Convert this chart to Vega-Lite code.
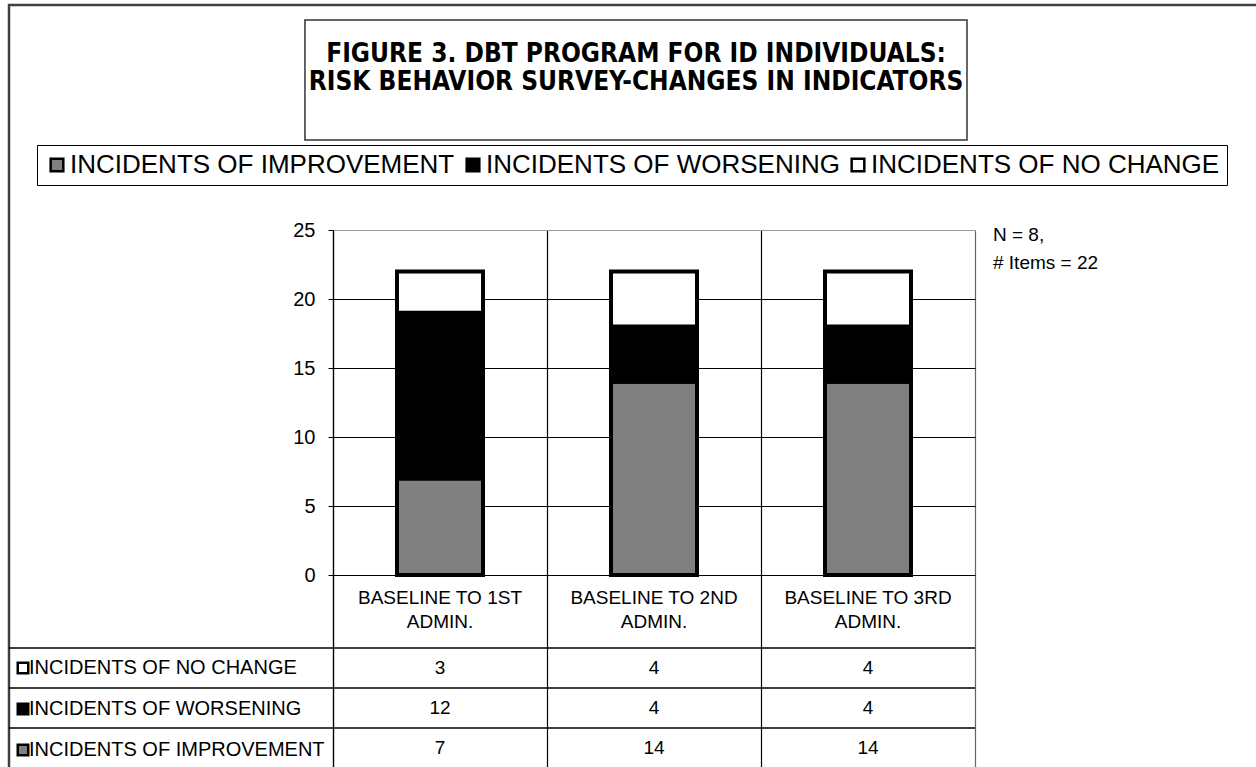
{
  "$schema": "https://vega.github.io/schema/vega-lite/v6.json",
  "width": 642,
  "height": 537,
  "autosize": {"type": "none"},
  "padding": {"left": 333, "top": 230, "right": 281, "bottom": 0},
  "background": "white",
  "config": {
    "view": {"stroke": null},
    "font": "Liberation Sans, Arial, sans-serif",
    "text": {"font": "Liberation Sans, Arial, sans-serif"}
  },
  "datasets": {
    "counts": [
      {"admin": 1, "period": "BASELINE TO 1ST\nADMIN.", "series": "INCIDENTS OF IMPROVEMENT", "rank": 1, "count": 7},
      {"admin": 1, "period": "BASELINE TO 1ST\nADMIN.", "series": "INCIDENTS OF WORSENING", "rank": 2, "count": 12},
      {"admin": 1, "period": "BASELINE TO 1ST\nADMIN.", "series": "INCIDENTS OF NO CHANGE", "rank": 3, "count": 3},
      {"admin": 2, "period": "BASELINE TO 2ND\nADMIN.", "series": "INCIDENTS OF IMPROVEMENT", "rank": 1, "count": 14},
      {"admin": 2, "period": "BASELINE TO 2ND\nADMIN.", "series": "INCIDENTS OF WORSENING", "rank": 2, "count": 4},
      {"admin": 2, "period": "BASELINE TO 2ND\nADMIN.", "series": "INCIDENTS OF NO CHANGE", "rank": 3, "count": 4},
      {"admin": 3, "period": "BASELINE TO 3RD\nADMIN.", "series": "INCIDENTS OF IMPROVEMENT", "rank": 1, "count": 14},
      {"admin": 3, "period": "BASELINE TO 3RD\nADMIN.", "series": "INCIDENTS OF WORSENING", "rank": 2, "count": 4},
      {"admin": 3, "period": "BASELINE TO 3RD\nADMIN.", "series": "INCIDENTS OF NO CHANGE", "rank": 3, "count": 4}
    ]
  },
  "data": {"name": "counts"},
  "resolve": {"scale": {"y": "independent"}, "axis": {"y": "independent"}},
  "layer": [
    {
      "data": {"values": [{}]},
      "mark": {"type": "rect", "fill": "transparent", "stroke": "#404040", "strokeWidth": 2.5},
      "encoding": {
        "x": {"datum": -1.014, "type": "quantitative", "scale": {"domain": [0.5, 3.5], "nice": false, "zero": false, "padding": 0}},
        "x2": {"datum": 5},
        "y": {"datum": 41.3, "type": "quantitative", "scale": {"domain": [-13.91, 25], "nice": false, "zero": false}, "axis": null},
        "y2": {"datum": -16}
      }
    },
    {
      "data": {"values": [{}]},
      "mark": {"type": "rect", "fill": "transparent", "stroke": "#333333", "strokeWidth": 1.5},
      "encoding": {
        "x": {"datum": 0.369, "type": "quantitative", "scale": {"domain": [0.5, 3.5], "nice": false, "zero": false, "padding": 0}},
        "x2": {"datum": 3.4626},
        "y": {"datum": 40.22, "type": "quantitative", "scale": {"domain": [-13.91, 25], "nice": false, "zero": false}, "axis": null},
        "y2": {"datum": 31.52}
      }
    },
    {
      "data": {"values": [{}]},
      "mark": {
        "type": "text",
        "text": ["FIGURE 3. DBT PROGRAM FOR ID INDIVIDUALS:", "RISK BEHAVIOR SURVEY-CHANGES IN INDICATORS"],
        "font": "DejaVu Sans Condensed, Liberation Sans Narrow, sans-serif",
        "fontWeight": "bold",
        "fontSize": 26,
        "lineHeight": 28,
        "align": "center",
        "baseline": "middle",
        "color": "black"
      },
      "encoding": {
        "x": {"datum": 1.916, "type": "quantitative", "scale": {"domain": [0.5, 3.5], "nice": false, "zero": false, "padding": 0}},
        "y": {"datum": 37.75, "type": "quantitative", "scale": {"domain": [-13.91, 25], "nice": false, "zero": false}, "axis": null}
      }
    },
    {
      "mark": {"type": "bar", "size": 86, "stroke": "black", "strokeWidth": 4},
      "encoding": {
        "x": {
          "field": "admin",
          "type": "quantitative",
          "scale": {"domain": [0.5, 3.5], "nice": false, "zero": false, "padding": 0},
          "axis": {
            "values": [0.5, 1.5, 2.5, 3.5],
            "grid": true,
            "gridColor": {"condition": {"test": "datum.value === 3.5", "value": "#666666"}, "value": "black"},
            "gridWidth": 1.2,
            "labels": false,
            "ticks": false,
            "domain": false,
            "title": null
          }
        },
        "y": {
          "field": "count",
          "type": "quantitative",
          "stack": "zero",
          "scale": {"domain": [-13.91, 25], "nice": false, "zero": false},
          "axis": {
            "values": [0, 5, 10, 15, 20, 25],
            "grid": true,
            "gridColor": {"condition": {"test": "datum.value === 25", "value": "#999999"}, "value": "black"},
            "gridWidth": 1.2,
            "domainColor": "black",
            "domainWidth": 1.2,
            "tickColor": "black",
            "tickSize": 5,
            "labelFontSize": 20,
            "labelColor": "black",
            "labelPadding": 13,
            "labelFont": "Liberation Sans, Arial, sans-serif",
            "title": null
          }
        },
        "color": {
          "field": "series",
          "type": "nominal",
          "scale": {
            "domain": ["INCIDENTS OF IMPROVEMENT", "INCIDENTS OF WORSENING", "INCIDENTS OF NO CHANGE"],
            "range": ["#808080", "#000000", "#ffffff"]
          },
          "legend": {
            "title": null,
            "orient": "none",
            "legendX": -296,
            "legendY": -85,
            "direction": "horizontal",
            "columns": 3,
            "strokeColor": "black",
            "fillColor": "white",
            "padding": 7,
            "symbolType": "square",
            "symbolSize": 160,
            "symbolStrokeColor": "black",
            "symbolStrokeWidth": 2.5,
            "labelFontSize": 26,
            "labelFont": "Liberation Sans, Arial, sans-serif",
            "labelColor": "black",
            "labelLimit": 800,
            "labelOffset": 0,
            "columnPadding": 5
          }
        },
        "order": {"field": "rank", "type": "quantitative"}
      }
    },
    {
      "transform": [{"aggregate": [{"op": "count", "as": "n"}], "groupby": ["admin", "period"]}],
      "mark": {"type": "text", "lineBreak": "\n", "fontSize": 19, "lineHeight": 24, "align": "center", "baseline": "middle", "color": "black"},
      "encoding": {
        "x": {"field": "admin", "type": "quantitative", "scale": {"domain": [0.5, 3.5], "nice": false, "zero": false, "padding": 0}},
        "y": {"datum": -1.667, "type": "quantitative", "scale": {"domain": [-13.91, 25], "nice": false, "zero": false}, "axis": null},
        "text": {"field": "period"}
      }
    },
    {
      "transform": [{"aggregate": [{"op": "count", "as": "n"}], "groupby": ["series"]}],
      "mark": {"type": "rule", "color": "black", "strokeWidth": 1.5},
      "encoding": {
        "x": {"datum": -1.014, "type": "quantitative", "scale": {"domain": [0.5, 3.5], "nice": false, "zero": false, "padding": 0}},
        "x2": {"datum": 3.5},
        "y": {
          "field": "series",
          "type": "nominal",
          "bandPosition": 0,
          "scale": {"type": "band", "domain": ["INCIDENTS OF NO CHANGE", "INCIDENTS OF WORSENING", "INCIDENTS OF IMPROVEMENT"], "range": [418, 538], "paddingInner": 0, "paddingOuter": 0},
          "axis": null
        }
      }
    },
    {
      "mark": {"type": "text", "fontSize": 19, "color": "black", "align": "center", "baseline": "middle"},
      "encoding": {
        "x": {"field": "admin", "type": "quantitative", "scale": {"domain": [0.5, 3.5], "nice": false, "zero": false, "padding": 0}},
        "y": {
          "field": "series",
          "type": "nominal",
          "bandPosition": 0.5,
          "scale": {"type": "band", "domain": ["INCIDENTS OF NO CHANGE", "INCIDENTS OF WORSENING", "INCIDENTS OF IMPROVEMENT"], "range": [418, 538], "paddingInner": 0, "paddingOuter": 0},
          "axis": null
        },
        "text": {"field": "count", "type": "quantitative"}
      }
    },
    {
      "transform": [{"aggregate": [{"op": "count", "as": "n"}], "groupby": ["series"]}],
      "mark": {"type": "square", "opacity": 0},
      "encoding": {
        "x": {"datum": -1, "type": "quantitative", "scale": {"domain": [0.5, 3.5], "nice": false, "zero": false, "padding": 0}},
        "y": {
          "field": "series",
          "type": "nominal",
          "bandPosition": 0.5,
          "scale": {"type": "band", "domain": ["INCIDENTS OF NO CHANGE", "INCIDENTS OF WORSENING", "INCIDENTS OF IMPROVEMENT"], "range": [418, 538], "paddingInner": 0, "paddingOuter": 0},
          "axis": null
        },
        "fill": {
          "field": "series",
          "type": "nominal",
          "scale": {
            "domain": ["INCIDENTS OF NO CHANGE", "INCIDENTS OF WORSENING", "INCIDENTS OF IMPROVEMENT"],
            "range": ["#ffffff", "#000000", "#808080"]
          },
          "legend": {
            "title": null,
            "orient": "none",
            "legendX": -320,
            "legendY": 428,
            "direction": "vertical",
            "padding": 0,
            "symbolType": "square",
            "symbolSize": 110,
            "symbolOpacity": 1,
            "symbolStrokeColor": "black",
            "symbolStrokeWidth": 2.5,
            "labelFontSize": 20,
            "labelFont": "Liberation Sans, Arial, sans-serif",
            "labelColor": "black",
            "labelLimit": 800,
            "labelOffset": -4,
            "rowPadding": 19
          }
        }
      }
    },
    {
      "data": {"values": [{}]},
      "mark": {"type": "text", "text": ["N = 8,", "# Items = 22"], "fontSize": 19, "lineHeight": 28, "align": "left", "baseline": "middle", "color": "black"},
      "encoding": {
        "x": {"datum": 3.584, "type": "quantitative", "scale": {"domain": [0.5, 3.5], "nice": false, "zero": false, "padding": 0}},
        "y": {"datum": 24.64, "type": "quantitative", "scale": {"domain": [-13.91, 25], "nice": false, "zero": false}, "axis": null}
      }
    }
  ]
}
